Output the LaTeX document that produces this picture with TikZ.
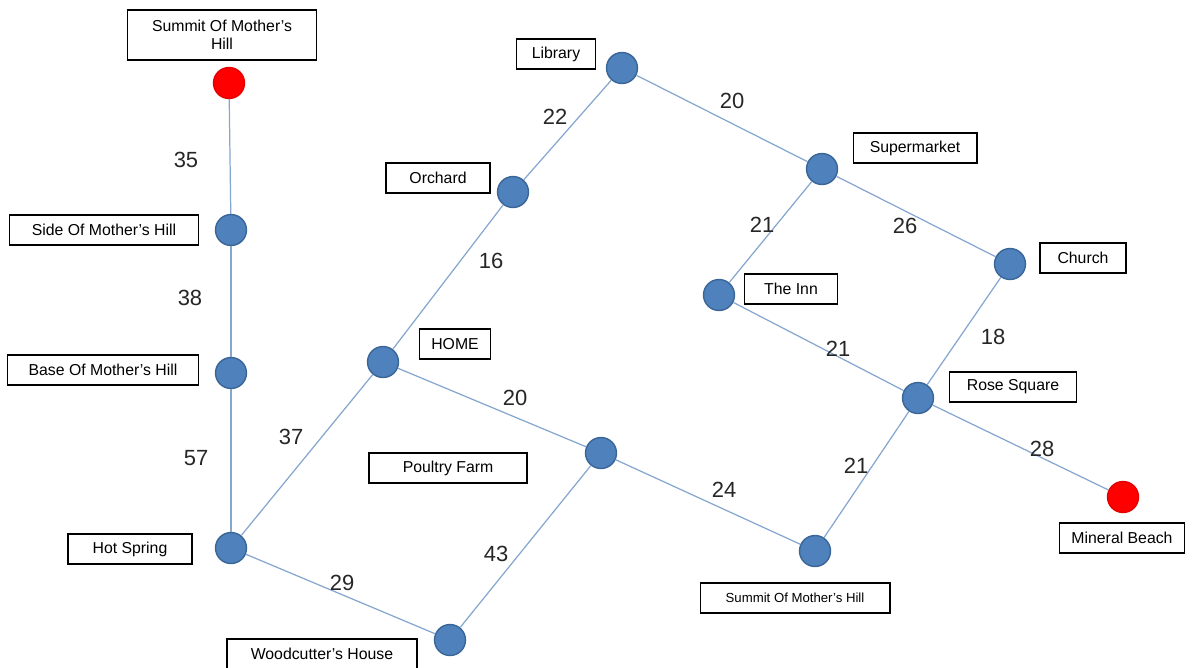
\documentclass[tikz,border=0pt]{standalone}
\usepackage{fontspec}
\setmainfont{Liberation Sans}

\definecolor{vtxblue}{HTML}{4F81BD}
\definecolor{vtxedge}{HTML}{3A6597}
\definecolor{roadblue}{HTML}{86A6CF}
\definecolor{endred}{HTML}{FF0000}

\tikzset{
	place/.style={circle, fill=vtxblue, draw=vtxedge, line width=0.8pt, minimum size=0.62cm, inner sep=0pt},
	goal/.style={place, fill=endred, draw=endred!90!black},
	tag/.style={draw, fill=white, line width=0.6pt, minimum height=0.6cm, inner sep=1pt, font=\fontsize{9}{10.5}\selectfont},
	dist/.style={font=\fontsize{12.5}{14}\selectfont, text=black!85},
	road/.style={draw=roadblue, line width=0.7pt}
}

\begin{document}
\begin{tikzpicture}[x=0.02cm, y=-0.02cm]
	\useasboundingbox (0,0) rectangle (1199,667);
	% places
	\node[goal] (peak) at (229,83) {}; % Summit Of Mother's Hill
\node[place] (side) at (231,230) {}; % Side Of Mother's Hill
\node[place] (base) at (231,373) {}; % Base Of Mother's Hill
\node[place] (spring) at (231,548) {}; % Hot Spring
\node[place] (wood) at (450,640) {}; % Woodcutter's House
\node[place] (home) at (383,362) {}; % HOME
\node[place] (orchard) at (513,192) {}; % Orchard
\node[place] (library) at (622,68) {}; % Library
\node[place] (market) at (822,169) {}; % Supermarket
\node[place] (church) at (1010,264) {}; % Church
\node[place] (inn) at (719,295) {}; % The Inn
\node[place] (rose) at (918,398) {}; % Rose Square
\node[place] (farm) at (601,453) {}; % Poultry Farm
\node[place] (summit) at (815,551) {}; % Summit Of Mother's Hill (lower)
\node[goal] (beach) at (1123,497) {}; % Mineral Beach
	% roads
\path[road] (peak) -- (side) ; % 35
\path[road] (side) -- (base) ; % 38
\path[road] (base) -- (spring) ; % 57
\path[road] (spring) -- (home) ; % 37
\path[road] (spring) -- (wood) ; % 29
\path[road] (wood) -- (farm) ; % 43
\path[road] (home) -- (orchard) ; % 16
\path[road] (orchard) -- (library) ; % 22
\path[road] (library) -- (market) ; % 20
\path[road] (home) -- (farm) ; % 20
\path[road] (farm) -- (summit) ; % 24
\path[road] (market) -- (inn) ; % 21
\path[road] (market) -- (church) ; % 26
\path[road] (inn) -- (rose) ; % 21
\path[road] (church) -- (rose) ; % 18
\path[road] (rose) -- (summit) ; % 21
\path[road] (rose) -- (beach) ; % 28
	% distances
\node[dist] (d1) at (186,160) {35};
\node[dist] (d2) at (190,298) {38};
\node[dist] (d3) at (196,458) {57};
\node[dist] (d4) at (291,437) {37};
\node[dist] (d5) at (342,583) {29};
\node[dist] (d6) at (496,554) {43};
\node[dist] (d7) at (491,261) {16};
\node[dist] (d8) at (555,117) {22};
\node[dist] (d9) at (732,101) {20};
\node[dist] (d10) at (515,398) {20};
\node[dist] (d11) at (724,490) {24};
\node[dist] (d12) at (762,225) {21};
\node[dist] (d13) at (905,226) {26};
\node[dist] (d14) at (838,349) {21};
\node[dist] (d15) at (993,337) {18};
\node[dist] (d16) at (856,466) {21};
\node[dist] (d17) at (1042,449) {28};
	% names
\node[tag, minimum width=3.78cm, minimum height=1cm, align=center] (tpeak) at (222,35) {Summit Of Mother's\\Hill};
\node[tag, minimum width=3.78cm] (tside) at (104,230) {Side Of Mother's Hill};
\node[tag, minimum width=3.82cm] (tbase) at (103,370) {Base Of Mother's Hill};
\node[tag, minimum width=2.48cm] (tspring) at (130,549) {Hot Spring};
\node[tag, minimum width=3.8cm] (twood) at (322,654) {Woodcutter's House};
\node[tag, minimum width=1.42cm] (thome) at (455,344) {HOME};
\node[tag, minimum width=2.08cm] (torchard) at (438,178) {Orchard};
\node[tag, minimum width=1.58cm] (tlibrary) at (556,54) {Library};
\node[tag, minimum width=2.48cm] (tmarket) at (915,148) {Supermarket};
\node[tag, minimum width=1.72cm] (tchurch) at (1083,258) {Church};
\node[tag, minimum width=1.86cm] (tinn) at (791,289) {The Inn};
\node[tag, minimum width=2.54cm] (trose) at (1013,387) {Rose Square};
\node[tag, minimum width=3.16cm] (tfarm) at (448,468) {Poultry Farm};
\node[tag, minimum width=3.8cm, font=\fontsize{7.5}{9}\selectfont] (tsummit) at (795,598) {Summit Of Mother's Hill};
\node[tag, minimum width=2.5cm] (tbeach) at (1122,538) {Mineral Beach};
	\end{tikzpicture}
\end{document}
